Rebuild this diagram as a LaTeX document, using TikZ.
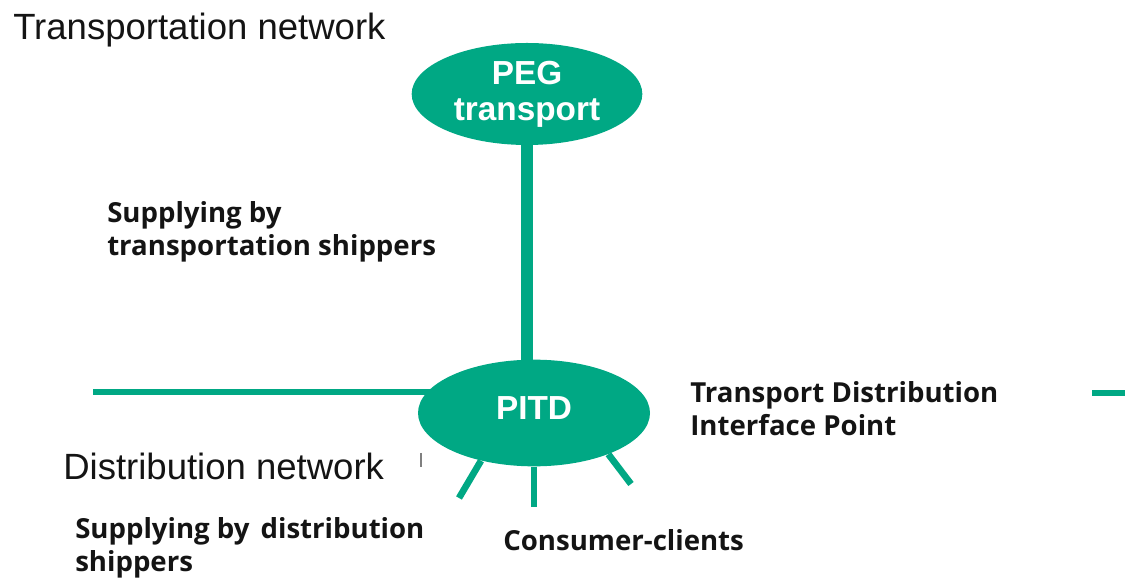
\documentclass[tikz,border=0pt]{standalone}
\usepackage{fontspec}
\setmainfont{Liberation Sans}
\newfontfamily\shipfont{Open Sans}
\usetikzlibrary{shapes.geometric,backgrounds}
\definecolor{netgreen}{RGB}{0,168,132}
\definecolor{inkgray}{RGB}{20,20,20}
\tikzset{
    hub/.style={ellipse,fill=netgreen,text=white,inner sep=0pt,align=center,
        font=\fontsize{25}{27}\selectfont\bfseries},
    netlabel/.style={anchor=base west,inner sep=0pt,text=inkgray,
        font=\fontsize{27.4}{33}\selectfont},
    shiplabel/.style={anchor=base west,inner sep=0pt,align=left,text=inkgray,
        font=\shipfont\bfseries\fontsize{20.7}{25}\selectfont},
    pipe/.style={draw=netgreen,line width=#1}
}
\begin{document}
\begin{tikzpicture}[x=0.75pt,y=-0.75pt]
    \useasboundingbox (0,0) rectangle (1125,580);
    \node[hub,minimum width=173pt,minimum height=76.5pt] (peg) at (527,94) {PEG\\transport};
    \node[hub,minimum width=174pt,minimum height=80pt,text depth=8pt] (pitd) at (534,413) {PITD};
    \coordinate (westend) at (93,392);
    \coordinate (eaststart) at (1092,393);
    \coordinate (eastend) at (1125,393);
    \coordinate (spokeL) at (459,498);
    \coordinate (spokeM) at (533,507);
    \coordinate (spokeR) at (631,484);
    \begin{scope}[on background layer]
        \draw[pipe=8.5pt] (peg.south) -- (peg.south |- pitd.center);
        \draw[pipe=5pt] (westend) -- (westend -| pitd.center);
        \draw[pipe=5pt] (pitd.-138) -- (spokeL);
        \draw[pipe=5pt] (pitd.south) -- (pitd.south |- spokeM);
        \draw[pipe=5pt] (pitd.-29) -- (spokeR);
    \end{scope}
    \draw[pipe=4.5pt] (eaststart) -- (eastend);
    \draw[gray,line width=1pt] (421,453) -- (421,467);
    % labels (multi-line ones sit on the baseline of their last line)
    \node[netlabel] (transnet) at (13,40) {Transportation network};
    \node[netlabel] (distnet) at (63,480) {Distribution network};
    \node[shiplabel] (transship) at (107,256) {Supplying by\\transportation shippers};
    \node[shiplabel] (tdip) at (690,436) {Transport Distribution\\Interface Point};
    \node[shiplabel] (distship) at (75,572) {Supplying by\hspace{0.4em}distribution\\shippers};
    \node[shiplabel] (clients) at (503,551) {Consumer-clients};
\end{tikzpicture}
\end{document}
